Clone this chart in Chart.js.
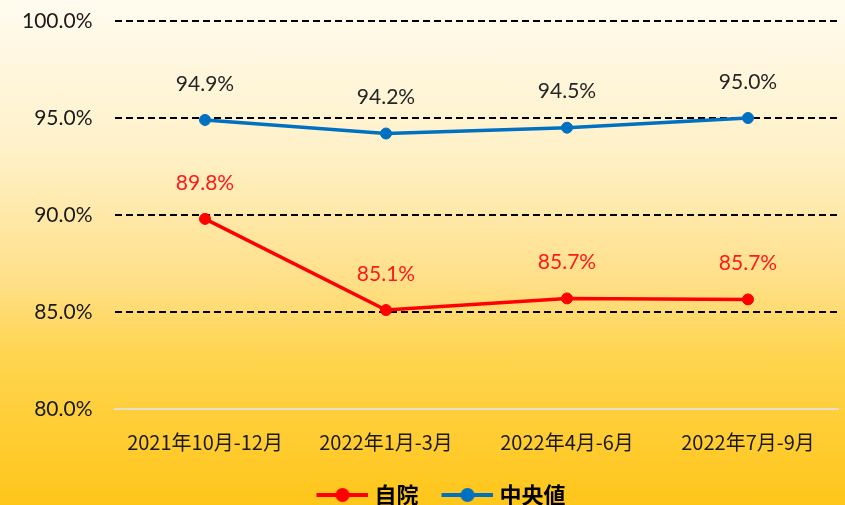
<!DOCTYPE html>
<html>
<head>
<meta charset="utf-8">
<script src="https://cdn.jsdelivr.net/npm/chart.js@4"></script>
<style>
html,body{margin:0;padding:0;}
body{width:845px;height:505px;overflow:hidden;
background:linear-gradient(to bottom,#fffbef 0%,#fff1c8 30%,#ffe08a 55%,#ffd550 70%,#ffc61a 100%);}
#wrap{position:relative;width:845px;height:505px;}
</style>
</head>
<body>
<div id="wrap"><canvas id="c" width="845" height="505"></canvas></div>
<script>
const categories = ["2021年10月-12月", "2022年1月-3月", "2022年4月-6月", "2022年7月-9月"];
const seriesNames = ["自院", "中央値"];
const ownValues = [89.8, 85.1, 85.7, 85.65];
const ownLabels = ["89.8%", "85.1%", "85.7%", "85.7%"];
const medianValues = [94.9, 94.2, 94.5, 95.0];
const medianLabels = ["94.9%", "94.2%", "94.5%", "95.0%"];
const yTicks = [80, 85, 90, 95, 100];

const ownColor = "#ff0000";
const medColor = "#0070c0";

// legend icon: transparent lead-in, then a line with a dot
function legendIcon(color){
  const cv = document.createElement('canvas');
  cv.width = 76; cv.height = 16;
  const g = cv.getContext('2d');
  g.strokeStyle = color; g.lineWidth = 4; g.lineCap='butt';
  g.beginPath(); g.moveTo(24,8); g.lineTo(76,8); g.stroke();
  g.fillStyle = color; g.beginPath(); g.arc(50,8,7,0,Math.PI*2); g.fill();
  return cv;
}

const dataLabelPlugin = {
  id: 'dataLabels',
  afterDatasetsDraw(chart){
    const ctx = chart.ctx;
    ctx.save();
    ctx.font = '21px Lato, "Noto Sans", sans-serif';
    ctx.textAlign = 'center';
    ctx.textBaseline = 'middle';
    chart.data.datasets.forEach((ds, i) => {
      const meta = chart.getDatasetMeta(i);
      meta.data.forEach((pt, j) => {
        ctx.fillStyle = ds.labelColor;
        ctx.fillText(ds.labelTexts[j], pt.x, pt.y - 36);
      });
    });
    ctx.restore();
  }
};

const legendShift = {
  id: 'legendShift',
  afterLayout(chart){
    if (chart.legend){ chart.legend.left += 8; chart.legend.right += 8; }
  }
};

new Chart(document.getElementById('c'), {
  type: 'line',
  data: {
    labels: categories,
    datasets: [
      {label: seriesNames[0], data: ownValues, borderColor: ownColor, backgroundColor: ownColor,
       borderWidth: 3.5, pointRadius: 5.5, pointHoverRadius: 5.5, pointBorderWidth: 1, pointBackgroundColor: ownColor,
       pointBorderColor: ownColor, tension: 0, labelColor: "#ff1a1a", labelTexts: ownLabels},
      {label: seriesNames[1], data: medianValues, borderColor: medColor, backgroundColor: medColor,
       borderWidth: 3.5, pointRadius: 5.5, pointHoverRadius: 5.5, pointBorderWidth: 1, pointBackgroundColor: medColor,
       pointBorderColor: medColor, tension: 0, labelColor: "#262626", labelTexts: medianLabels}
    ]
  },
  options: {
    responsive: false,
    animation: false,
    layout: {padding: {top: 21, right: -2, left: 0, bottom: -11}},
    plugins: {
      tooltip: {enabled: false},
      legend: {
        position: 'bottom',
        labels: {
          usePointStyle: true,
          pointStyleWidth: 66,
          padding: 4,
          color: '#1a1a1a',
          font: {size: 22, weight: 'bold', family: '"Noto Sans CJK JP", sans-serif'},
          generateLabels(chart){
            return chart.data.datasets.map((ds, i) => ({
              text: ds.label, fillStyle: ds.borderColor, strokeStyle: ds.borderColor,
              lineWidth: 0, pointStyle: legendIcon(ds.borderColor), datasetIndex: i, hidden: false
            }));
          }
        }
      }
    },
    scales: {
      x: {
        offset: true,
        grid: {display: false},
        border: {display: true, color: '#eadfc6', width: 2},
        afterFit(scale){ scale.height += 13; scale.paddingTop = 0; scale.paddingLeft = 0; scale.paddingRight = 0; },
        ticks: {color: '#1a1a1a', padding: 13, maxRotation: 0,
          font: {size: 20, family: '"Noto Sans CJK JP", sans-serif'}}
      },
      y: {
        min: 80, max: 100,
        afterBuildTicks(axis){ axis.ticks = yTicks.map(v => ({value: v})); },
        afterFit(scale){ scale.paddingTop = 0; scale.paddingBottom = 0; },
        grid: {
          color: c => c.tick && c.tick.value === 80 ? 'rgba(0,0,0,0)' : '#000000',
          lineWidth: 2,
          drawTicks: false
        },
        border: {display: false, dash: [7, 4]},
        ticks: {color: '#1a1a1a', padding: 22,
          font: {size: 21, family: 'Lato, "Noto Sans", sans-serif'},
          callback: v => v.toFixed(1) + '%'}
      }
    }
  },
  plugins: [dataLabelPlugin, legendShift]
});
</script>
</body>
</html>
